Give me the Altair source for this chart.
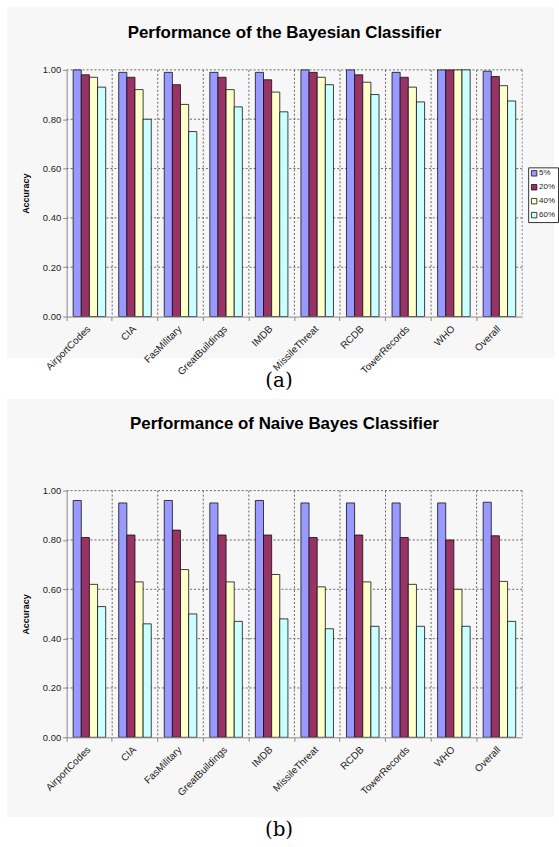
import altair as alt
import pandas as pd

categories = ["AirportCodes", "CIA", "FasMilitary", "GreatBuildings", "IMDB",
              "MissileThreat", "RCDB", "TowerRecords", "WHO", "Overall"]
series = ["5%", "20%", "40%", "60%"]
colors = ["#9999FF", "#993366", "#FFFFCC", "#CCFFFF"]

bayes_5 = [1.00, 0.99, 0.99, 0.99, 0.99, 1.00, 1.00, 0.99, 1.00, 0.995]
bayes_20 = [0.98, 0.97, 0.94, 0.97, 0.96, 0.99, 0.98, 0.97, 1.00, 0.973]
bayes_40 = [0.97, 0.92, 0.86, 0.92, 0.91, 0.97, 0.95, 0.93, 1.00, 0.936]
bayes_60 = [0.93, 0.80, 0.75, 0.85, 0.83, 0.94, 0.90, 0.87, 1.00, 0.874]

nb_5 = [0.96, 0.95, 0.96, 0.95, 0.96, 0.95, 0.95, 0.95, 0.95, 0.953]
nb_20 = [0.81, 0.82, 0.84, 0.82, 0.82, 0.81, 0.82, 0.81, 0.80, 0.817]
nb_40 = [0.62, 0.63, 0.68, 0.63, 0.66, 0.61, 0.63, 0.62, 0.60, 0.632]
nb_60 = [0.53, 0.46, 0.50, 0.47, 0.48, 0.44, 0.45, 0.45, 0.45, 0.470]

y_ticks = [0.2, 0.4, 0.6, 0.8, 1.0]

W, H = 458, 248
FONT = "Liberation Sans"
GRID = "#666666"


def make_df(cols):
    rows = []
    for s, vals in zip(series, cols):
        for c, v in zip(categories, vals):
            rows.append({"cat": c, "series": s, "acc": v})
    return pd.DataFrame(rows)


def panel(df, title, caption, rect_top, rect_bottom, title_y, cap_y):
    xscale = alt.Scale(domain=categories, paddingInner=0, paddingOuter=0)
    yscale = alt.Scale(domain=[0, 1])
    one = alt.Data(values=[{"k": 1}])

    bg = alt.Chart(one).mark_rect(fill="#F7F7F7").encode(
        x=alt.value(-60), x2=alt.value(W + 32),
        y=alt.value(rect_top), y2=alt.value(rect_bottom),
    )

    ttl = alt.Chart(one).mark_text(
        font=FONT, fontSize=17, fontWeight="bold", color="#000000",
        align="center", baseline="middle",
    ).encode(x=alt.value(W / 2 - 10), y=alt.value(title_y), text=alt.value(title))

    hgrid = alt.Chart(pd.DataFrame({"v": y_ticks})).mark_rule(
        color=GRID, strokeDash=[2, 2], strokeWidth=1
    ).encode(
        y=alt.Y("v:Q", scale=yscale),
        x=alt.value(0), x2=alt.value(W),
    )

    vgrid = alt.Chart(pd.DataFrame({"cat": categories[1:]})).mark_rule(
        color=GRID, strokeDash=[2, 2], strokeWidth=1
    ).encode(
        x=alt.X("cat:N", scale=xscale, bandPosition=0),
        y=alt.value(0), y2=alt.value(H),
    )

    redge = alt.Chart(one).mark_rule(
        color="#888888", strokeDash=[2, 2], strokeWidth=1
    ).encode(x=alt.value(W), y=alt.value(0), y2=alt.value(H))

    bars = alt.Chart(df).mark_bar(stroke="#111111", strokeWidth=0.8).encode(
        x=alt.X(
            "cat:N", scale=xscale, sort=categories,
            axis=alt.Axis(
                title=caption, bandPosition=0, labelOffset=-4,
                labelAngle=-45, labelAlign="right", labelBaseline="top",
                labelFont=FONT, labelFontSize=10, labelColor="#222222",
                labelPadding=3,
                domainColor="#888888", tickColor="#888888", tickSize=4,
                grid=False, zindex=1,
                titleFont="DejaVu Serif", titleFontSize=20,
                titleFontWeight="normal", titleColor="#000000",
                titleX=213, titleY=cap_y, titleBaseline="middle",
                titleAnchor="start", titleAlign="center",
            ),
        ),
        xOffset=alt.XOffset(
            "series:N", sort=series,
            scale=alt.Scale(domain=series, paddingInner=0, paddingOuter=0.8),
        ),
        y=alt.Y(
            "acc:Q", scale=yscale,
            axis=alt.Axis(
                title="Accuracy", values=[0, 0.2, 0.4, 0.6, 0.8, 1.0],
                format=".2f", grid=False, zindex=1,
                labelFont=FONT, labelFontSize=9.5, labelColor="#222222",
                domainColor="#888888", tickColor="#888888", tickSize=4,
                titleFont=FONT, titleFontSize=9, titleFontWeight="bold",
                titleColor="#000000", titlePadding=12,
            ),
        ),
        color=alt.Color(
            "series:N", sort=series,
            scale=alt.Scale(domain=series, range=colors),
            legend=alt.Legend(
                title=None, orient="none", legendX=464, legendY=98,
                direction="vertical",
                symbolType="square", symbolSize=30,
                symbolStrokeColor="#111111", symbolStrokeWidth=0.8,
                labelFont=FONT, labelFontSize=8, labelColor="#222222",
                labelOffset=1, rowPadding=4, padding=2,
                strokeColor="#333333", fillColor="#FFFFFF",
            ),
        ),
    )

    return alt.layer(bg, ttl, hgrid, vgrid, redge, bars).properties(
        width=W, height=H,
    )


top = panel(make_df([bayes_5, bayes_20, bayes_40, bayes_60]),
            "Performance of the Bayesian Classifier", "(a)",
            -63, 290, -37, 64)
bottom = panel(make_df([nb_5, nb_20, nb_40, nb_60]),
               "Performance of Naive Bayes Classifier", "(b)",
               -92, 328, -67, 93)

chart = alt.vconcat(top, bottom, spacing=9).properties(
    padding={"left": 7, "top": 5, "right": 0, "bottom": 0},
    background="#FFFFFF",
).configure_view(stroke=None)

chart.save("out.html", embed_options={"renderer": "svg", "actions": False})
